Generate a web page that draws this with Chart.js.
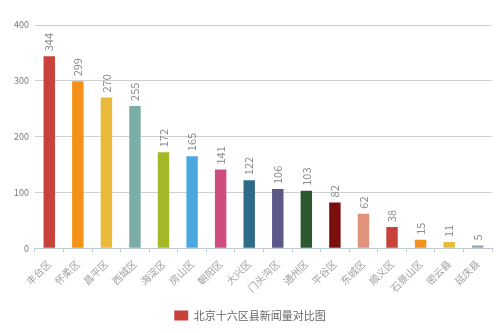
<!DOCTYPE html>
<html>
<head>
<meta charset="utf-8">
<script src="https://cdn.jsdelivr.net/npm/chart.js@4/dist/chart.umd.min.js"></script>
<style>
  html, body { margin:0; padding:0; background:#fff; }
  #wrap { width:500px; height:333px; }
</style>
</head>
<body>
<div id="wrap"><canvas id="c"></canvas></div>
<script>
const districts = ['丰台区','怀柔区','昌平区','西城区','海淀区','房山区','朝阳区','大兴区','门头沟区','通州区','平谷区','东城区','顺义区','石景山区','密云县','延庆县'];
const newsCounts = [344,299,270,255,172,165,141,122,106,103,82,62,38,15,11,5];
const barColors = ['#c9413b','#f39119','#e9b93a','#7aaea6','#a5b827','#4ba8df','#d04c7f','#2e6b88','#5c5888','#2c5a2e','#7b0d0e','#e0937a','#c9413b','#f39119','#e9b93a','#93a6ab'];
const yTicks = [0,100,200,300,400];
const seriesName = '北京十六区县新闻量对比图';

const fontFamily = '"Noto Sans CJK SC", "DejaVu Sans", sans-serif';

// labels above bars, rotated to read upwards
const valueLabels = {
    id: 'valueLabels',
    afterDatasetsDraw(chart) {
        const ctx = chart.ctx;
        const meta = chart.getDatasetMeta(0);
        ctx.save();
        ctx.fillStyle = '#8a8a8a';
        ctx.font = '11px ' + fontFamily;
        ctx.textAlign = 'left';
        ctx.textBaseline = 'middle';
        meta.data.forEach((bar, i) => {
            ctx.save();
            ctx.translate(bar.x, bar.y - 5);
            ctx.rotate(-Math.PI / 2);
            ctx.fillText(String(newsCounts[i]), 0, 0);
            ctx.restore();
        });
        ctx.restore();
    }
};

new Chart(document.getElementById('c'), {
    type: 'bar',
    data: {
        labels: districts,
        datasets: [{
            label: seriesName,
            data: newsCounts,
            backgroundColor: barColors,
            barPercentage: 0.4,
            categoryPercentage: 1.0
        }]
    },
    options: {
        responsive: true,
        maintainAspectRatio: false,
        animation: false,
        layout: { padding: { top: 25, right: 8, left: 8, bottom: 2 } },
        plugins: {
            legend: {
                position: 'bottom',
                labels: {
                    color: '#666',
                    font: { size: 11, family: fontFamily },
                    boxWidth: 14,
                    boxHeight: 10,
                    padding: 10,
                    generateLabels: () => [{
                        text: seriesName,
                        fillStyle: barColors[0],
                        strokeStyle: barColors[0],
                        lineWidth: 0,
                        fontColor: '#666'
                    }]
                }
            },
            tooltip: { enabled: false }
        },
        scales: {
            y: {
                min: 0,
                max: 400,
                afterBuildTicks: axis => { axis.ticks = yTicks.map(v => ({ value: v })); },
                ticks: { color: '#777', font: { size: 9, family: fontFamily }, padding: 6 },
                grid: { color: '#cfcfcf', tickLength: 4, drawTicks: false },
                border: { display: false }
            },
            x: {
                ticks: {
                    color: '#a0a0a0',
                    font: { size: 10, family: fontFamily },
                    maxRotation: 45,
                    minRotation: 45,
                    autoSkip: false,
                    padding: 5.5
                },
                grid: { drawOnChartArea: false, offset: true, color: '#bfcbd3', tickLength: 4 },
                border: { color: '#bfcbd3' }
            }
        }
    },
    plugins: [valueLabels]
});
</script>
</body>
</html>
